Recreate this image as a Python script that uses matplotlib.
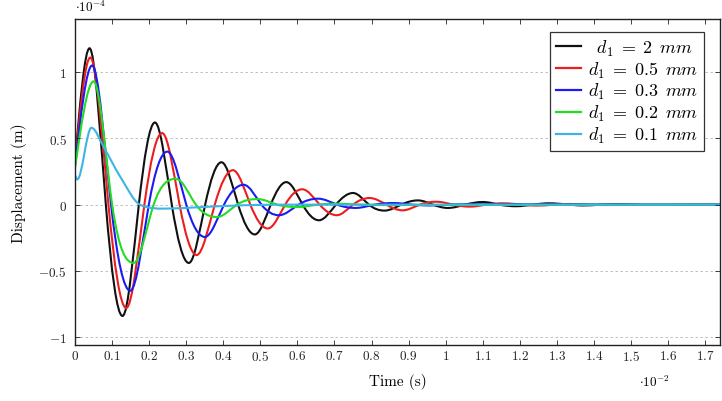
import numpy as np
import matplotlib.pyplot as plt
from matplotlib.path import Path
from matplotlib.patches import PathPatch
from matplotlib.lines import Line2D

plt.rcParams['mathtext.fontset'] = 'cm'
plt.rcParams['font.family'] = 'cmr10'
plt.rcParams['axes.unicode_minus'] = False

# values: time in 1e-2 s, displacement in 1e-4 m
t_2mm = [0, 0.039, 0.083, 0.128, 0.172, 0.2155, 0.261, 0.307, 0.351, 0.395, 0.440,
         0.485, 0.528, 0.570, 0.614, 0.658, 0.704, 0.750, 0.793, 0.835, 0.880,
         0.925, 0.966, 1.006, 1.053, 1.100, 1.145, 1.190, 1.235, 1.280, 1.37,
         1.46, 1.55, 1.74]
y_2mm = [0.33, 1.18, 0.0, -0.84, 0.0, 0.62, 0.0, -0.44, 0.0, 0.32, 0.0,
         -0.225, 0.0, 0.17, 0.0, -0.118, 0.0, 0.088, 0.0, -0.045, 0.0,
         0.032, 0.0, -0.025, 0.0, 0.02, 0.0, -0.012, 0.0, 0.01, -0.006,
         0.004, -0.002, 0.0]

t_05mm = [0, 0.041, 0.090, 0.138, 0.187, 0.235, 0.282, 0.328, 0.377, 0.426,
          0.473, 0.520, 0.567, 0.613, 0.660, 0.706, 0.750, 0.795, 0.840,
          0.884, 0.930, 0.975, 1.020, 1.065, 1.110, 1.155, 1.245, 1.335,
          1.425, 1.74]
y_05mm = [0.32, 1.11, 0.0, -0.78, 0.0, 0.54, 0.0, -0.38, 0.0, 0.26,
          0.0, -0.18, 0.0, 0.116, 0.0, -0.08, 0.0, 0.05, 0.0,
          -0.043, 0.0, 0.022, 0.0, -0.015, 0.0, 0.01, -0.007, 0.005,
          -0.003, 0.0]

t_03mm = [0, 0.046, 0.097, 0.149, 0.199, 0.249, 0.300, 0.350, 0.402, 0.455,
          0.503, 0.550, 0.603, 0.656, 0.707, 0.757, 0.808, 0.860, 0.910,
          0.960, 1.010, 1.060, 1.74]
y_03mm = [0.30, 1.05, 0.0, -0.65, 0.0, 0.40, 0.0, -0.244, 0.0, 0.15,
          0.0, -0.08, 0.0, 0.045, 0.0, -0.025, 0.0, 0.012, 0.0,
          -0.006, 0.0, 0.003, 0.0]

t_02mm = [0, 0.050, 0.100, 0.158, 0.212, 0.272, 0.326, 0.383, 0.437, 0.492,
          0.546, 0.600, 0.655, 0.710, 0.765, 0.820, 1.74]
y_02mm = [0.28, 0.93, 0.0, -0.44, 0.0, 0.195, 0.0, -0.093, 0.0, 0.042,
          0.0, -0.018, 0.0, 0.007, 0.0, -0.003, 0.0]

t_01mm = [0, 0.006, 0.044, 0.078, 0.122, 0.175, 0.240, 0.330, 0.450, 0.600, 1.74]
y_01mm = [0.22, 0.19, 0.58, 0.43, 0.21, 0.0, -0.03, -0.02, -0.005, 0.0, 0.0]

labels = [r'$\;\;d_1\;=\;2\,\ mm$', r'$d_1\;=\;0.5\,\ mm$', r'$d_1\;=\;0.3\,\ mm$',
          r'$d_1\;=\;0.2\,\ mm$', r'$d_1\;=\;0.1\,\ mm$']
colors = ['#111111', '#ee1d1d', '#1c1cf0', '#22dd22', '#3cb4e4']
series = [(t_2mm, y_2mm, 1.5), (t_05mm, y_05mm, 1.5), (t_03mm, y_03mm, 1.5),
          (t_02mm, y_02mm, 1.5), (t_01mm, y_01mm, 1.0)]

xticks = [0, 0.1, 0.2, 0.3, 0.4, 0.5, 0.6, 0.7, 0.8, 0.9, 1, 1.1, 1.2, 1.3,
          1.4, 1.5, 1.6, 1.7]
yticks = [-1, -0.5, 0, 0.5, 1]


def smooth_path(t, y, k=1.5):
    # cubic Hermite curve through the read points, drawn as bezier segments
    t = np.asarray(t, float)
    y = np.asarray(y, float)
    n = len(t)
    d = np.diff(y) / np.diff(t)
    m = np.zeros(n)
    for i in range(1, n - 1):
        if d[i - 1] * d[i] <= 0:
            m[i] = 0.0
        else:
            s = k * (y[i + 1] - y[i - 1]) / (t[i + 1] - t[i - 1])
            lim = 3 * min(abs(d[i - 1]), abs(d[i]))
            m[i] = np.sign(s) * min(abs(s), lim)
    m[0] = k * d[0]
    verts = [(t[0], y[0])]
    codes = [Path.MOVETO]
    for i in range(n - 1):
        h = t[i + 1] - t[i]
        verts += [(t[i] + h / 3, y[i] + m[i] * h / 3),
                  (t[i + 1] - h / 3, y[i + 1] - m[i + 1] * h / 3),
                  (t[i + 1], y[i + 1])]
        codes += [Path.CURVE4] * 3
    return Path(verts, codes)


fig = plt.figure(figsize=(7.22, 4.02), dpi=100)
ax = fig.add_axes([0.104, 0.139, 0.893, 0.811])

for yy in yticks:
    ax.axhline(yy, color='#b5b5b5', lw=0.6, ls=(0, (3, 3)), zorder=0)

handles = []
for (tt, yy, k), c in zip(series, colors):
    ax.add_patch(PathPatch(smooth_path(tt, yy, k), fill=False, edgecolor=c,
                           lw=1.5, capstyle='round', joinstyle='round'))
    handles.append(Line2D([], [], color=c, lw=1.6))

ax.set_xlim(0, 1.74)
ax.set_ylim(-1.06, 1.40)
ax.set_xticks(xticks)
ax.set_xticklabels(['$%g$' % v for v in xticks], fontsize=9.5)
ax.set_yticks(yticks)
ax.set_yticklabels(['$%g$' % v for v in yticks], fontsize=9.5)
ax.tick_params(direction='in', top=True, right=True, length=3.5, width=0.6,
               colors='#222222')
ax.tick_params(axis='x', pad=3)
ax.tick_params(axis='y', pad=6)
for sp in ax.spines.values():
    sp.set_linewidth(1.0)
    sp.set_color('#222222')

ax.set_xlabel('Time (s)', fontsize=11, labelpad=7)
ax.set_ylabel('Displacement (m)', fontsize=11, labelpad=8)
fig.text(0.104, 0.970, r'$\cdot 10^{-4}$', fontsize=9.5, va='baseline')
fig.text(0.885, 0.038, r'$\cdot 10^{-2}$', fontsize=9.5, va='baseline')

leg = ax.legend(handles, labels, loc='upper right', fontsize=13,
                bbox_to_anchor=(0.975, 0.96), frameon=True, fancybox=False,
                framealpha=1, edgecolor='#333333', labelspacing=0.1,
                handlelength=1.4, handletextpad=0.4, borderpad=0.3,
                borderaxespad=0)
leg.get_frame().set_linewidth(0.9)

fig.savefig('out.png', dpi=100)
